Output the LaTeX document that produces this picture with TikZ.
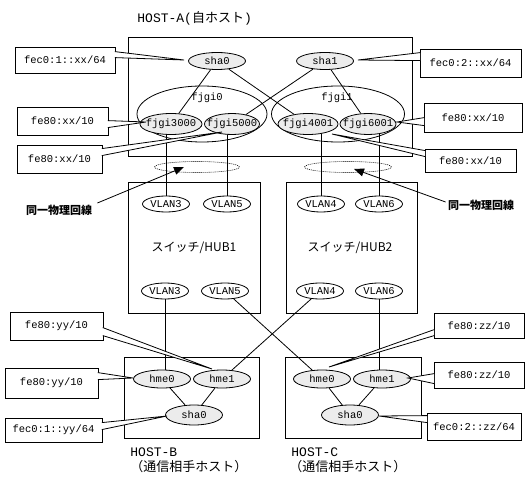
\documentclass[tikz,border=0pt]{standalone}
\usepackage{fontspec}
\setmainfont{Liberation Mono}
\newfontfamily\jp{Noto Sans CJK JP}
\usetikzlibrary{shapes.geometric,arrows.meta,backgrounds,calc}
\newcommand\zw[1]{\makebox[0pt]{#1}}
\newcommand\callout[9]{%
  \node[cbox, minimum width=#3pt, minimum height=#4pt] (#1) at #2 {#5};
  \filldraw[fill=white] ([#7]#1.#6) -- (#9) -- ([#8]#1.#6);
}
\begin{document}
\begin{tikzpicture}[x=1pt,y=-1pt, line width=0.8pt,
  font=\fontsize{10.5}{12}\selectfont,
  iface/.style={draw, ellipse, fill=gray!15, inner sep=0pt, minimum width=57pt, minimum height=18pt},
  vlan/.style={draw, ellipse, inner sep=0pt, minimum width=47pt, minimum height=16pt},
  grp/.style={draw, ellipse, inner sep=0pt},
  frame/.style={draw, inner sep=0pt},
  cbox/.style={draw, fill=white, inner sep=0pt},
  cjk/.style={font=\jp\fontsize{13}{15}\selectfont, inner sep=0pt},
  hub/.style={font=\jp\fontsize{12}{14}\selectfont, inner sep=0pt},
  ttl/.style={font=\fontsize{13}{15}\selectfont, inner sep=0pt},
  bold/.style={font=\jp\bfseries\fontsize{11}{13}\selectfont, inner sep=0pt},
  phys/.style={draw, ellipse, inner sep=0pt, dash pattern=on 1pt off 1pt, line width=0.6pt},
  pointer/.style={-{Triangle[length=10pt,width=8pt]}}
]
\useasboundingbox (0,0) rectangle (529,486);

% titles
\node[ttl, anchor=west] (titleA) at (137,18) {HOST-A({\jp 自ホスト})};

% boxes
\node[frame, minimum width=284pt, minimum height=119pt] (hostA) at (270,96.5) {};
\node[frame, minimum width=132pt, minimum height=131pt] (hub1) at (194,247.5) {};
\node[frame, minimum width=131pt, minimum height=131pt] (hub2) at (351.5,247.5) {};
\node[frame, minimum width=135pt, minimum height=81pt] (hostB) at (191.5,397.5) {};
\node[frame, minimum width=136pt, minimum height=81pt] (hostC) at (353,397.5) {};

% HOST-A interfaces
\node[grp, minimum width=130pt, minimum height=56pt] (fjgi0) at (202,114) {};
\node[grp, minimum width=133pt, minimum height=56pt] (fjgi1) at (338,114) {};
\node[inner sep=0pt] (fjgi0l) at (207,98) {fjgi0};
\node[inner sep=0pt] (fjgi1l) at (337,98) {fjgi1};
\node[iface, minimum height=17pt] (shaA0) at (217,61) {\zw{sha0}};
\node[iface, minimum height=17pt] (shaA1) at (325,61) {\zw{sha1}};
\node[iface, minimum width=62pt, minimum height=21pt] (f3000) at (171,124) {\zw{fjgi3000}};
\node[iface, minimum width=55pt, minimum height=21pt] (f5000) at (232,124) {\zw{fjgi5000}};
\node[iface, minimum width=60pt, minimum height=21pt] (f4001) at (308,124) {\zw{fjgi4001}};
\node[iface, minimum width=56pt, minimum height=21pt] (f6001) at (368,124) {\zw{fjgi6001}};

\draw (shaA0) -- (f3000);
\draw (shaA0) -- (f4001);
\draw (shaA1) -- (f5000);
\draw (shaA1) -- (f6001);

% switches
\node[vlan] (v3t) at (166,204) {\zw{VLAN3}};
\node[vlan] (v5t) at (227,204) {\zw{VLAN5}};
\node[vlan] (v4t) at (321,204) {\zw{VLAN4}};
\node[vlan] (v6t) at (379,204) {\zw{VLAN6}};
\node[vlan] (v3b) at (165,291) {\zw{VLAN3}};
\node[vlan] (v5b) at (225,291) {\zw{VLAN5}};
\node[vlan] (v4b) at (320,291) {\zw{VLAN4}};
\node[vlan] (v6b) at (379,291) {\zw{VLAN6}};
\node[hub] (hub1l) at (194,248) {スイッチ/HUB1};
\node[hub] (hub2l) at (350,248) {スイッチ/HUB2};

% HOST-B / HOST-C
\node[iface] (hB0) at (162,379) {\zw{hme0}};
\node[iface] (hB1) at (222,379) {\zw{hme1}};
\node[iface, minimum height=20pt] (sB) at (194,415) {\zw{sha0}};
\node[iface] (hC0) at (322,379) {\zw{hme0}};
\node[iface] (hC1) at (382,379) {\zw{hme1}};
\node[iface, minimum height=20pt] (sC) at (350,415) {\zw{sha0}};
\draw (hB0) -- (sB);
\draw (hB1) -- (sB);
\draw (hC0) -- (sC);
\draw (hC1) -- (sC);

\node[ttl, anchor=west] (titleB) at (130,452) {HOST-B};
\node[cjk, anchor=west] (titleB2) at (130,467) {（通信相手ホスト）};
\node[ttl, anchor=west] (titleC) at (291,452) {HOST-C};
\node[cjk, anchor=west] (titleC2) at (289,467) {（通信相手ホスト）};

% wires (behind the filled ellipses)
\begin{scope}[on background layer]
\draw (v3t.north) -- (v3t.north |- f3000.center);
\draw (v5t.north) -- (v5t.north |- f5000.center);
\draw (v4t.north) -- (v4t.north |- f4001.center);
\draw (v6t.north) -- (v6t.north |- f6001.center);
\draw (v3b.south) -- (v3b.south |- hB0.center);
\draw (v6b.south) -- (v6b.south |- hC1.center);
\end{scope}
\draw (v5b) -- (hC0);
\draw (v4b) -- (hB1);

% same physical line
\node[phys, minimum width=85pt, minimum height=11pt] (phy1) at (197,167) {};
\node[phys, minimum width=87pt, minimum height=11pt] (phy2) at (348,167) {};
\node[bold] (samel) at (59,210) {同一物理回線};
\node[bold] (samer) at (481,205) {同一物理回線};
\coordinate (a1) at (184,167);
\coordinate (a2) at (354,169);
\draw[pointer] ([xshift=5pt,yshift=7pt]samel.east) -- (a1);
\draw[pointer] ([xshift=-2pt,yshift=3pt]samer.west) -- (a2);

% callouts
\coordinate (t1) at (184,60);
\coordinate (t2) at (358,60);
\coordinate (t3) at (146,122);
\coordinate (t4) at (222,132);
\coordinate (t5) at (397,122);
\coordinate (t6) at (332,134);
\coordinate (t7) at (212,369);
\coordinate (t8) at (133,378);
\coordinate (t9) at (167,416);
\coordinate (t10) at (329,367);
\coordinate (t11) at (408,378);
\coordinate (t12) at (379,416);

\callout{c1}{(65,60)}{100}{26}{fec0:1::xx/64}{north east}{xshift=-0.6pt,yshift=-5pt}{xshift=-0.6pt,yshift=-11pt}{t1}
\callout{c2}{(470.5,63)}{101}{28}{fec0:2::xx/64}{north west}{xshift=0.6pt,yshift=-4pt}{xshift=0.6pt,yshift=-12pt}{t2}
\callout{c3}{(62.5,121)}{91}{28}{fe80:xx/10}{north east}{xshift=-0.6pt,yshift=-14pt}{xshift=-0.6pt,yshift=-21pt}{t3}
\callout{c4}{(59.5,159)}{85}{28}{fe80:xx/10}{north east}{xshift=-0.6pt,yshift=-4pt}{xshift=-0.6pt,yshift=-11pt}{t4}
\callout{c5}{(473,117.5)}{98}{29}{fe80:xx/10}{north west}{xshift=0.6pt,yshift=-15pt}{xshift=0.6pt,yshift=-23pt}{t5}
\callout{c6}{(470.5,160.5)}{91}{23}{fe80:xx/10}{north west}{xshift=0.6pt,yshift=-2pt}{xshift=0.6pt,yshift=-8pt}{t6}
\callout{c7}{(56.5,326)}{93}{28}{fe80:yy/10}{north east}{xshift=-0.6pt,yshift=-16pt}{xshift=-0.6pt,yshift=-24pt}{t7}
\callout{c8}{(51.5,383)}{93}{30}{fe80:yy/10}{north east}{xshift=-0.6pt,yshift=-5pt}{xshift=-0.6pt,yshift=-12pt}{t8}
\callout{c9}{(53.5,430)}{97}{24}{fec0:1::yy/64}{north east}{xshift=-0.6pt,yshift=-5pt}{xshift=-0.6pt,yshift=-12pt}{t9}
\callout{c10}{(479,325.5)}{90}{25}{fe80:zz/10}{north west}{xshift=0.6pt,yshift=-17pt}{xshift=0.6pt,yshift=-23pt}{t10}
\callout{c11}{(479,375)}{90}{26}{fe80:zz/10}{north west}{xshift=0.6pt,yshift=-12pt}{xshift=0.6pt,yshift=-22pt}{t11}
\callout{c12}{(474,426.5)}{94}{27}{fec0:2::zz/64}{north west}{xshift=0.6pt,yshift=-3pt}{xshift=0.6pt,yshift=-10pt}{t12}
\end{tikzpicture}
\end{document}
